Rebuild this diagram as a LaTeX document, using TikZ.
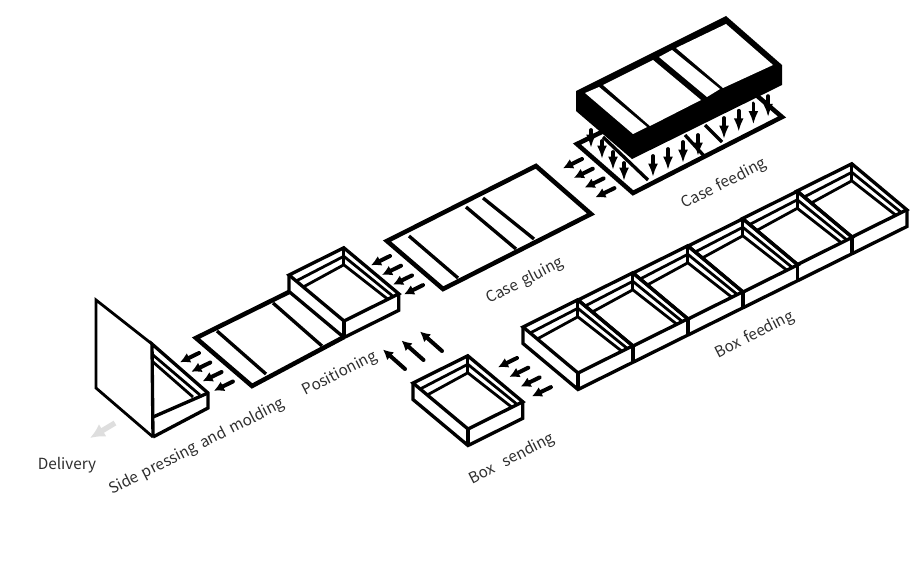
\documentclass[tikz,border=0pt]{standalone}
\usepackage{fontspec}
\setmainfont[WordSpace=1.5]{Noto Sans CJK SC}
\usetikzlibrary{calc,arrows.meta}
\tikzset{
    boxline/.style={line width=2.5pt,line join=miter,black},
    sheetline/.style={line width=3.4pt,line join=miter,black},
    pushline/.style={-{Latex[length=7.5pt,width=8pt]},line width=3pt,line cap=round,black},
    dropline/.style={-{Latex[length=10pt,width=7.5pt]},line width=2.8pt,line cap=round,black},
    steplabel/.style={text=black!82,font=\fontsize{11.5pt}{13pt}\selectfont,rotate=27}
}
\begin{document}
\begin{tikzpicture}[>=latex,x=0.75pt,y=-0.75pt]
    \useasboundingbox (0,0) rectangle (913,563);

    % case feeding, sheet under the lid
    \coordinate (feedLeft) at (577,144);
    \coordinate (feedBack) at (610,128);
    \coordinate (feedBottom) at (633,193);
    \coordinate (feedRight) at (782,117);
    \coordinate (feedEnd) at (755,94);
    \draw[sheetline] (feedBack) -- (feedLeft) -- (feedBottom) -- (feedRight) -- (feedEnd);
    \draw[boxline] (603,137) -- (648,180);
    \draw[boxline] (685,135) -- (705,157);
    \draw[boxline] (705,125) -- (722,142);

    \foreach \k in {0,...,3} {
        \draw[dropline] ($(591,130)+\k*(11,11)$) -- ++(0,18);
        \draw[dropline] ($(653,156)+\k*(15,-7)$) -- ++(0,21);
        \draw[dropline] ($(724,118)+\k*(14.7,-7.3)$) -- ++(0,21);
    }

    % case feeding, black lid
    \coordinate (lidLeft) at (576,91);
    \coordinate (lidTop) at (726,16);
    \coordinate (lidRight) at (782,65);
    \coordinate (lidRightLow) at (782,85);
    \coordinate (lidBottom) at (632,159);
    \coordinate (lidLeftLow) at (576,111);
    \fill[black] (lidLeft) -- (lidTop) -- (lidRight) -- (lidRightLow) -- (lidBottom) -- (lidLeftLow) -- cycle;
    \fill[white] (585,93) -- (599,87) -- (647,127) -- (633,134) -- cycle;
    \fill[white] (603,85) -- (653,60) -- (701,100) -- (650,126) -- cycle;
    \fill[white] (659,57) -- (672,50) -- (720,89) -- (707,97) -- cycle;
    \fill[white] (676,48) -- (726,24) -- (773,65) -- (723,88) -- cycle;

    % case gluing
    \coordinate (glueLeft) at (387,241);
    \coordinate (glueTop) at (536,166);
    \coordinate (glueRight) at (591,214);
    \coordinate (glueBottom) at (443,289);
    \draw[sheetline] (glueLeft) -- (glueTop) -- (glueRight) -- (glueBottom) -- cycle;
    \draw[boxline] (409,236) -- (458,278);
    \draw[boxline] (466,207) -- (516,249);
    \draw[boxline] (483,198) -- (534,239);

    % positioning, sheet in front of the box
    \coordinate (pressLeft) at (196,338);
    \coordinate (pressBottom) at (252,386);
    \coordinate (pressTop) at (289,292);
    \coordinate (pressRight) at (344,337);
    \draw[sheetline] (pressTop) -- (pressLeft) -- (pressBottom) -- (pressRight);
    \draw[boxline] (217,331) -- (266,374);
    \draw[boxline] (273,303) -- (322,346);

    % boxes: feeding row, sending, positioning
    \foreach \lx/\ly in {523/327,578/300,633/273,688/246,742.5/218.5,797/191,413/383,289/275} {
        \coordinate (cellLeft) at (\lx,\ly);
        \coordinate (cellTop) at ($(cellLeft)+(54.8,-27.2)$);
        \coordinate (cellFront) at ($(cellLeft)+(55,46)$);
        \coordinate (cellRight) at ($(cellTop)+(55,46)$);
        \draw[boxline] (cellLeft) -- (cellTop) -- (cellRight) -- (cellFront) -- cycle;
        \draw[boxline] (cellFront) -- ++(0,16.5);
        \draw[boxline,line width=2.1pt] (cellTop) -- ($(cellTop)+(0,17)$);
        \draw[boxline,line width=2.1pt] ($(cellLeft)!0.13!(cellFront)$) -- ($(cellTop)+(0,8.5)$) -- ($(cellFront)!0.9!(cellRight)$);
        \draw[boxline,line width=2.1pt] ($(cellLeft)!0.26!(cellFront)$) -- ($(cellTop)+(0,17)$) -- ($(cellFront)!0.8!(cellRight)$);
    }
    \draw[boxline] (523,327) -- ++(0,16.5) -- ++(55,46) -- (907,226.5) -- (907,209);
    \draw[boxline] (413,383) -- ++(0,16.5) -- ++(55,46) -- ++(54.8,-27.2) -- ++(0,-16.5);
    \draw[boxline] (289,275) -- ++(0,16.5) -- ++(55,46) -- ++(54.8,-27.2) -- ++(0,-16.5);

    % side pressing and molding
    \coordinate (wallTop) at (96,300);
    \coordinate (wallLow) at (96,388);
    \coordinate (foldTop) at (152,344);
    \coordinate (foldLow) at (153,437);
    \coordinate (foldFront) at (153,417);
    \coordinate (flapRight) at (208,393);
    \coordinate (flapLow) at (208,408);
    \draw[boxline,line width=2.1pt] (foldTop) -- (wallTop) -- (wallLow) -- (foldLow);
    \draw[boxline] (foldLow) -- (foldTop) -- (flapRight) -- (flapLow) -- (foldLow);
    \draw[boxline] (foldFront) -- (flapRight);
    \draw[boxline,line width=2.1pt] (153,355) -- (200,395);
    \draw[boxline,line width=2.1pt] (153,362) -- (193,397);

    % small arrows between the stations
    \foreach \k in {0,...,3} {
        \draw[pushline] ($(582,159)+\k*(10.8,9.7)$) -- ++(-19,9.3);
        \draw[pushline] ($(390,256)+\k*(11,9.7)$) -- ++(-19,9.3);
        \draw[pushline] ($(199,353)+\k*(11.3,9.5)$) -- ++(-19,9.3);
        \draw[pushline] ($(517,358)+\k*(11.3,9.7)$) -- ++(-19,9.3);
    }
    \foreach \k in {0,...,2} {
        \draw[pushline] ($(405,369)+\k*(18.5,-9)$) -- ++(-22,-19.5);
    }
    \draw[-{Latex[length=11pt,width=11pt]},line width=4pt,black!13] (115,423) -- (90,438);

    \node[steplabel] (caseFeeding) at (724,184) {Case feeding};
    \node[steplabel] (caseGluing) at (525,281) {Case gluing};
    \node[steplabel] (boxFeeding) at (755,335) {Box feeding};
    \node[steplabel] (positioning) at (340,374) {Positioning};
    \node[steplabel] (boxSending) at (512,459) {Box\ \ sending};
    \node[steplabel] (sidePressing) at (197,447) {Side pressing and molding};
    \node[text=black!82,font=\fontsize{11.5pt}{13pt}\selectfont] (delivery) at (67,465) {Delivery};
\end{tikzpicture}
\end{document}
